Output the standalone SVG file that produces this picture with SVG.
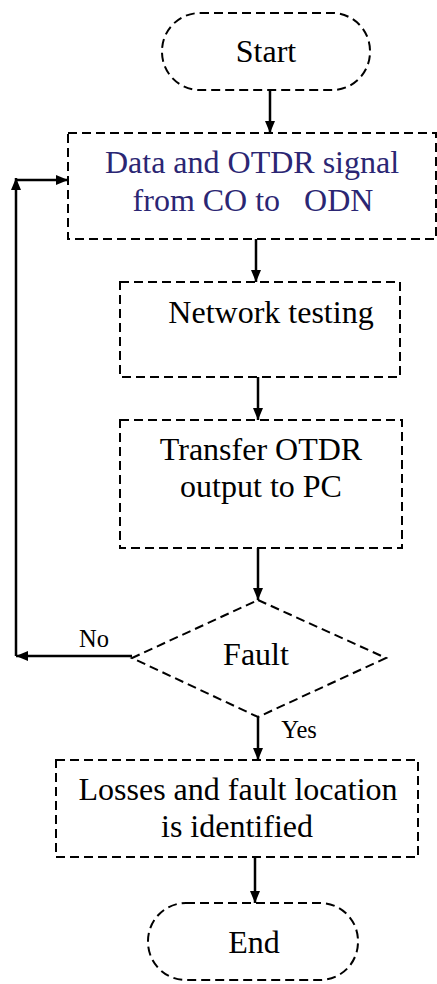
<svg xmlns="http://www.w3.org/2000/svg" width="437" height="984" viewBox="0 0 437 984">
<defs>
<marker id="ah" viewBox="0 0 12 10" refX="12" refY="5" markerWidth="12" markerHeight="10" markerUnits="userSpaceOnUse" orient="auto">
<path d="M0,0 L12,5 L0,10 Z" fill="#000"/>
</marker>
</defs>
<style>
.n{fill:none;stroke:#000;stroke-width:2;stroke-dasharray:9,5}
.t{font-family:"Liberation Serif","Times New Roman",serif;font-size:32px;fill:#000;text-anchor:middle}
.s{font-family:"Liberation Serif","Times New Roman",serif;font-size:24.5px;fill:#000;text-anchor:middle}
.b{fill:#2b2673}
.c{fill:none;stroke:#000;stroke-width:2.5}
</style>
<rect width="437" height="984" fill="#fff"/>
<g id="start"><rect class="n" x="162" y="13" width="208" height="77" rx="38"/><text class="t" x="266" y="62">Start</text></g>
<g id="data"><rect class="n" x="68" y="133" width="368" height="106"/><text class="t b" x="252" y="173">Data and OTDR signal</text><text class="t b" x="253" y="211" xml:space="preserve">from CO to   ODN</text></g>
<g id="testing"><rect class="n" x="120" y="282" width="280" height="95"/><text class="t" x="271" y="323">Network testing</text></g>
<g id="transfer"><rect class="n" x="120" y="420" width="282" height="128"/><text class="t" x="261" y="460">Transfer OTDR</text><text class="t" x="261" y="497">output to PC</text></g>
<g id="fault"><path class="n" d="M258,600 L386,658 L258,717 L132,658 Z"/><text class="t" x="256" y="665">Fault</text></g>
<g id="losses"><rect class="n" x="56" y="760" width="362" height="97"/><text class="t" x="238" y="800">Losses and fault location</text><text class="t" x="237" y="837">is identified</text></g>
<g id="end"><rect class="n" x="148" y="903" width="210" height="77" rx="38"/><text class="t" x="254" y="953">End</text></g>
<g id="connectors">
<line class="c" x1="270" y1="90" x2="270" y2="133" marker-end="url(#ah)"/>
<line class="c" x1="256" y1="239" x2="256" y2="282" marker-end="url(#ah)"/>
<line class="c" x1="258" y1="377" x2="258" y2="420" marker-end="url(#ah)"/>
<line class="c" x1="258" y1="548" x2="258" y2="600" marker-end="url(#ah)"/>
<line class="c" x1="258" y1="717" x2="258" y2="760" marker-end="url(#ah)"/>
<line class="c" x1="255" y1="857" x2="255" y2="903" marker-end="url(#ah)"/>
<line class="c" x1="132" y1="656" x2="16" y2="656" marker-end="url(#ah)"/>
<line class="c" x1="16" y1="656" x2="16" y2="178" marker-end="url(#ah)"/>
<line class="c" x1="16" y1="180" x2="68" y2="180" marker-end="url(#ah)"/>
<text class="s" x="94" y="647">No</text>
<text class="s" x="299" y="738">Yes</text>
</g>
</svg>
